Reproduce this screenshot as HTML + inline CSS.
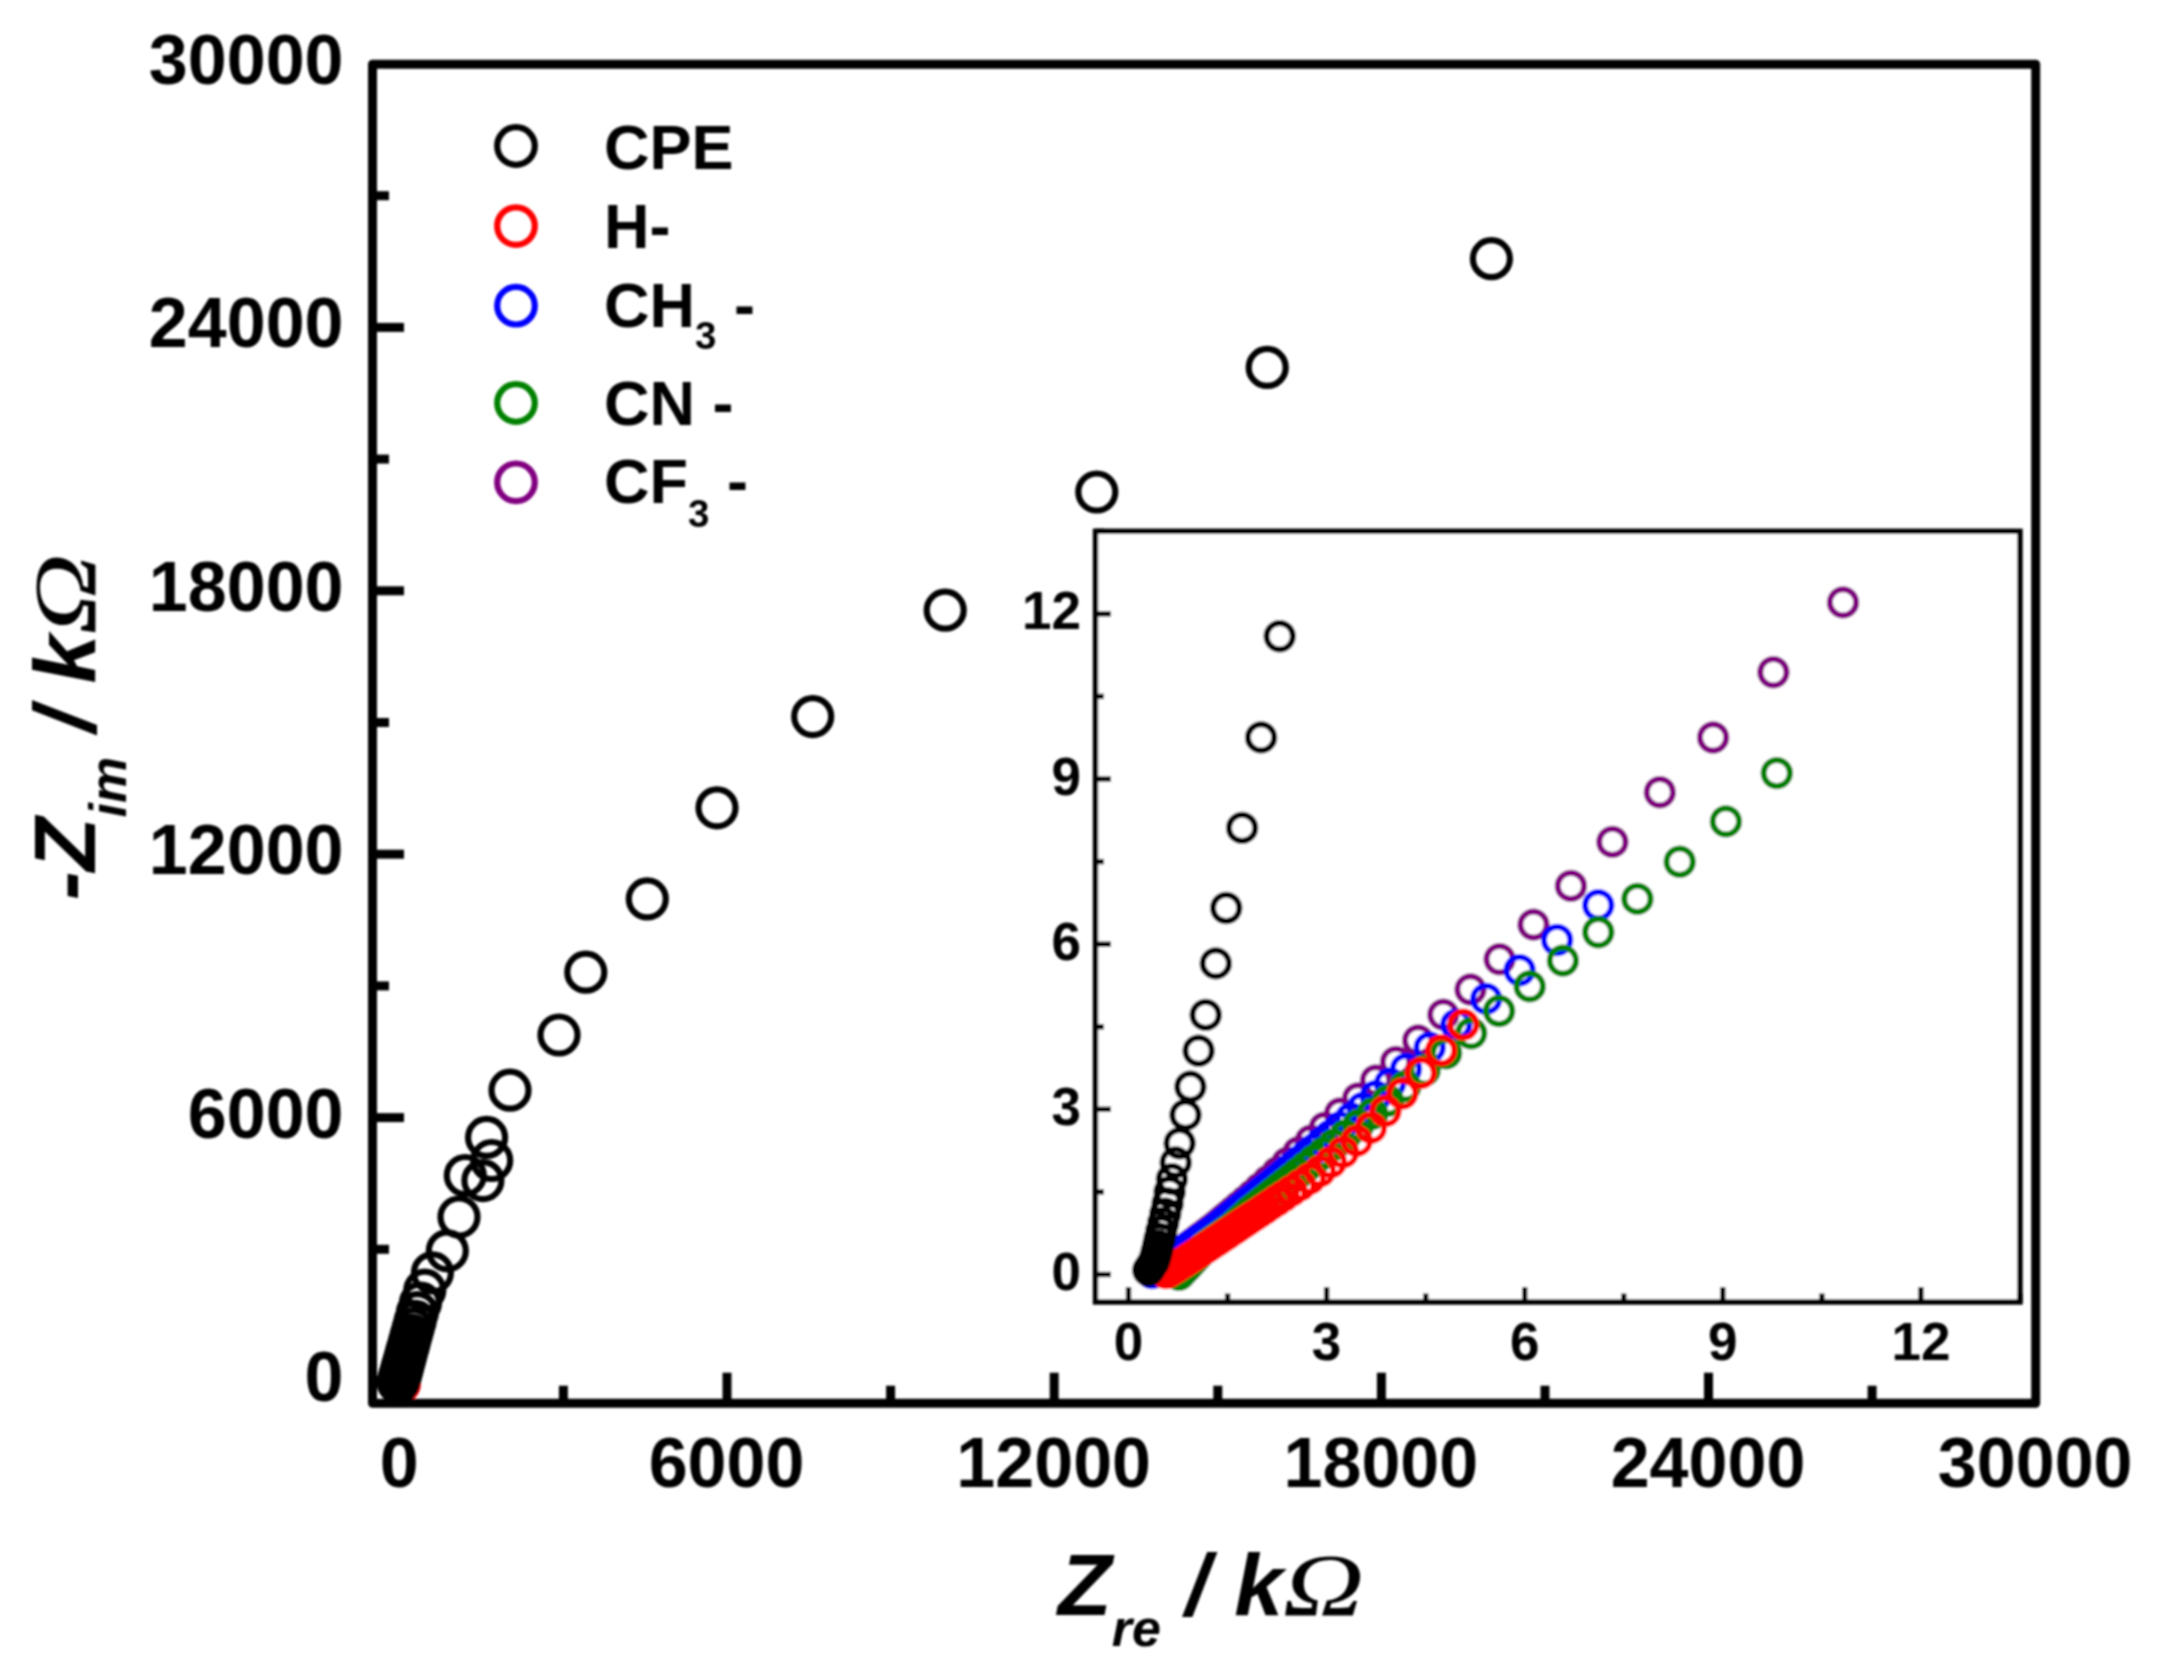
<!DOCTYPE html>
<html lang="en"><head><meta charset="utf-8"><title>Nyquist plot</title>
<style>html,body{margin:0;padding:0;background:#fff;}svg{display:block;}text{font-family:"Liberation Sans", Arial, Helvetica, sans-serif;font-weight:bold;fill:#000;}.tk{font-size:70px;}.itk{font-size:53px;}.lg{font-size:63px;}.ttl{font-size:88px;font-style:italic;}.sub{font-size:52px;}.om{font-family:"Liberation Serif", "Times New Roman", serif;font-weight:normal;font-style:italic;}.k circle{stroke:#000}.r circle{stroke:#f00}.b circle{stroke:#00f}.g circle{stroke:#008000}.p circle{stroke:#800080}</style></head><body>
<svg width="2165" height="1675" viewBox="0 0 2165 1675">
<defs><filter id="soft" x="0" y="0" width="2165" height="1675" filterUnits="userSpaceOnUse"><feGaussianBlur stdDeviation="1"/></filter></defs>
<rect x="0" y="0" width="2165" height="1675" fill="#fff"/>
<g filter="url(#soft)">
<g class="k" fill="none" stroke-width="6.2">
<circle cx="399.4" cy="1383.3" r="18.5" style="stroke:#f00"/>
<circle cx="398.2" cy="1382.5" r="18.5"/>
<circle cx="398.5" cy="1381.5" r="18.5"/>
<circle cx="398.8" cy="1380.3" r="18.5"/>
<circle cx="399.1" cy="1379.2" r="18.5"/>
<circle cx="399.4" cy="1378.0" r="18.5"/>
<circle cx="399.8" cy="1376.8" r="18.5"/>
<circle cx="400.1" cy="1375.7" r="18.5"/>
<circle cx="400.4" cy="1374.5" r="18.5"/>
<circle cx="400.7" cy="1373.4" r="18.5"/>
<circle cx="401.1" cy="1372.2" r="18.5"/>
<circle cx="401.4" cy="1370.8" r="18.5"/>
<circle cx="401.9" cy="1369.2" r="18.5"/>
<circle cx="402.4" cy="1367.4" r="18.5"/>
<circle cx="402.9" cy="1365.3" r="18.5"/>
<circle cx="403.6" cy="1363.0" r="18.5"/>
<circle cx="404.3" cy="1360.4" r="18.5"/>
<circle cx="405.1" cy="1357.4" r="18.5"/>
<circle cx="406.1" cy="1354.0" r="18.5"/>
<circle cx="407.1" cy="1350.1" r="18.5"/>
<circle cx="408.4" cy="1345.7" r="18.5"/>
<circle cx="409.7" cy="1340.7" r="18.5"/>
<circle cx="411.3" cy="1335.1" r="18.5"/>
<circle cx="413.1" cy="1328.6" r="18.5"/>
<circle cx="415.1" cy="1321.3" r="18.5"/>
<circle cx="417.3" cy="1312.7" r="18.5"/>
<circle cx="420.5" cy="1303.0" r="18.5"/>
<circle cx="424.8" cy="1290.2" r="18.5"/>
<circle cx="432.4" cy="1272.8" r="18.5"/>
<circle cx="447.3" cy="1250.8" r="18.5"/>
<circle cx="459.0" cy="1217.0" r="18.5"/>
<circle cx="482.9" cy="1180.6" r="18.5"/>
<circle cx="465.3" cy="1175.5" r="18.5"/>
<circle cx="491.7" cy="1160.5" r="18.5"/>
<circle cx="486.6" cy="1137.4" r="18.5"/>
<circle cx="510.0" cy="1090.2" r="18.5"/>
<circle cx="559.0" cy="1035.0" r="18.5"/>
<circle cx="585.8" cy="972.2" r="18.5"/>
<circle cx="647.3" cy="898.9" r="18.5"/>
<circle cx="717.0" cy="807.8" r="18.5"/>
<circle cx="812.7" cy="716.6" r="18.5"/>
<circle cx="945.2" cy="610.2" r="18.5"/>
<circle cx="1096.8" cy="492.0" r="18.5"/>
<circle cx="1267.2" cy="367.4" r="18.5"/>
<circle cx="1491.4" cy="258.7" r="18.5"/>
</g>
<g stroke="#000" stroke-width="9.0" fill="none" stroke-linejoin="round">
<rect x="372.5" y="64.2" width="1663.2" height="1339.0"/>
<line x1="399.8" y1="1403.2" x2="399.8" y2="1372.7"/>
<line x1="563.4" y1="1403.2" x2="563.4" y2="1385.7"/>
<line x1="727.0" y1="1403.2" x2="727.0" y2="1372.7"/>
<line x1="890.6" y1="1403.2" x2="890.6" y2="1385.7"/>
<line x1="1054.2" y1="1403.2" x2="1054.2" y2="1372.7"/>
<line x1="1217.8" y1="1403.2" x2="1217.8" y2="1385.7"/>
<line x1="1381.4" y1="1403.2" x2="1381.4" y2="1372.7"/>
<line x1="1545.0" y1="1403.2" x2="1545.0" y2="1385.7"/>
<line x1="1708.5" y1="1403.2" x2="1708.5" y2="1372.7"/>
<line x1="1872.1" y1="1403.2" x2="1872.1" y2="1385.7"/>
<line x1="372.5" y1="1381.0" x2="404.0" y2="1381.0"/>
<line x1="372.5" y1="1249.3" x2="389.0" y2="1249.3"/>
<line x1="372.5" y1="1117.6" x2="404.0" y2="1117.6"/>
<line x1="372.5" y1="985.9" x2="389.0" y2="985.9"/>
<line x1="372.5" y1="854.2" x2="404.0" y2="854.2"/>
<line x1="372.5" y1="722.5" x2="389.0" y2="722.5"/>
<line x1="372.5" y1="590.8" x2="404.0" y2="590.8"/>
<line x1="372.5" y1="459.1" x2="389.0" y2="459.1"/>
<line x1="372.5" y1="327.4" x2="404.0" y2="327.4"/>
<line x1="372.5" y1="195.7" x2="389.0" y2="195.7"/>
</g>
<g class="tk" text-anchor="middle">
<text x="399.3" y="1487">0</text>
<text x="726.5" y="1487">6000</text>
<text x="1053.7" y="1487">12000</text>
<text x="1380.9" y="1487">18000</text>
<text x="1708.0" y="1487">24000</text>
<text x="2035.2" y="1487">30000</text>
</g>
<g class="tk" text-anchor="end">
<text x="343.5" y="1401.0">0</text>
<text x="343.5" y="1137.6">6000</text>
<text x="343.5" y="874.2">12000</text>
<text x="343.5" y="610.8">18000</text>
<text x="343.5" y="347.4">24000</text>
<text x="343.5" y="84.0">30000</text>
</g>
<g class="k" fill="none" stroke-width="6.2"><circle cx="516" cy="146.0" r="18.8"/></g>
<g class="r" fill="none" stroke-width="6.2"><circle cx="516" cy="226.1" r="18.8"/></g>
<g class="b" fill="none" stroke-width="6.2"><circle cx="516" cy="305.7" r="18.8"/></g>
<g class="g" fill="none" stroke-width="6.2"><circle cx="516" cy="403.0" r="18.8"/></g>
<g class="p" fill="none" stroke-width="6.2"><circle cx="516" cy="482.3" r="18.8"/></g>
<g class="lg">
<text x="604" y="168.8">CPE</text>
<text x="604" y="248.4">H-</text>
<text x="604" y="327.3">CH<tspan font-size="38.5" dy="22">3</tspan><tspan dy="-22"> -</tspan></text>
<text x="604" y="424.5">CN -</text>
<text x="604" y="503.3">CF<tspan font-size="38.5" dy="23.5">3</tspan><tspan dy="-23.5"> -</tspan></text>
</g>
<text class="ttl" x="1058" y="1614.8">Z<tspan class="sub" dy="30.7">re</tspan><tspan dy="-30.7"> / k</tspan></text>
<text class="ttl om" transform="translate(1282.8,1614.8) scale(1.28,1)">Ω</text>
<text class="ttl" transform="translate(94.6,900.5) rotate(-90)">-Z<tspan class="sub" dy="31.5">im</tspan><tspan dy="-31.5"> / k</tspan></text>
<text class="ttl om" transform="translate(94.6,900.5) rotate(-90) translate(265.7,0) scale(1.28,1)">Ω</text>
<rect x="1095.5" y="531.3" width="924.5" height="770.7" fill="#fff" stroke="none"/>
<g class="p" fill="none" stroke-width="6.0">
<circle cx="1151.0" cy="1272.0" r="13.2"/>
<circle cx="1151.9" cy="1271.4" r="13.2"/>
<circle cx="1153.2" cy="1270.6" r="13.2"/>
<circle cx="1154.6" cy="1269.7" r="13.2"/>
<circle cx="1155.9" cy="1268.8" r="13.2"/>
<circle cx="1157.2" cy="1268.0" r="13.2"/>
<circle cx="1158.6" cy="1267.1" r="13.2"/>
<circle cx="1159.9" cy="1266.2" r="13.2"/>
<circle cx="1161.3" cy="1265.4" r="13.2"/>
<circle cx="1162.6" cy="1264.5" r="13.2"/>
<circle cx="1164.0" cy="1263.6" r="13.2"/>
<circle cx="1165.3" cy="1262.8" r="13.2"/>
<circle cx="1166.7" cy="1261.9" r="13.2"/>
<circle cx="1168.0" cy="1261.0" r="13.2"/>
<circle cx="1169.3" cy="1260.2" r="13.2"/>
<circle cx="1170.7" cy="1259.3" r="13.2"/>
<circle cx="1172.0" cy="1258.4" r="13.2"/>
<circle cx="1173.4" cy="1257.6" r="13.2"/>
<circle cx="1174.7" cy="1256.7" r="13.2"/>
<circle cx="1176.1" cy="1255.8" r="13.2"/>
<circle cx="1177.4" cy="1255.0" r="13.2"/>
<circle cx="1178.8" cy="1254.1" r="13.2"/>
<circle cx="1180.1" cy="1253.2" r="13.2"/>
<circle cx="1181.4" cy="1252.2" r="13.2"/>
<circle cx="1182.6" cy="1251.3" r="13.2"/>
<circle cx="1183.9" cy="1250.3" r="13.2"/>
<circle cx="1185.2" cy="1249.3" r="13.2"/>
<circle cx="1186.5" cy="1248.4" r="13.2"/>
<circle cx="1187.7" cy="1247.4" r="13.2"/>
<circle cx="1189.0" cy="1246.4" r="13.2"/>
<circle cx="1190.3" cy="1245.5" r="13.2"/>
<circle cx="1191.6" cy="1244.5" r="13.2"/>
<circle cx="1192.8" cy="1243.5" r="13.2"/>
<circle cx="1194.1" cy="1242.6" r="13.2"/>
<circle cx="1195.5" cy="1241.6" r="13.2"/>
<circle cx="1196.9" cy="1240.4" r="13.2"/>
<circle cx="1198.6" cy="1239.2" r="13.2"/>
<circle cx="1200.4" cy="1237.8" r="13.2"/>
<circle cx="1202.5" cy="1236.3" r="13.2"/>
<circle cx="1204.7" cy="1234.6" r="13.2"/>
<circle cx="1207.2" cy="1232.7" r="13.2"/>
<circle cx="1210.0" cy="1230.5" r="13.2"/>
<circle cx="1213.1" cy="1228.2" r="13.2"/>
<circle cx="1216.5" cy="1225.4" r="13.2"/>
<circle cx="1220.1" cy="1222.4" r="13.2"/>
<circle cx="1224.2" cy="1218.9" r="13.2"/>
<circle cx="1228.8" cy="1215.1" r="13.2"/>
<circle cx="1233.8" cy="1210.9" r="13.2"/>
<circle cx="1239.4" cy="1206.2" r="13.2"/>
<circle cx="1245.6" cy="1200.9" r="13.2"/>
<circle cx="1252.5" cy="1195.0" r="13.2"/>
<circle cx="1259.9" cy="1188.3" r="13.2"/>
<circle cx="1268.2" cy="1180.7" r="13.2"/>
<circle cx="1277.3" cy="1172.3" r="13.2"/>
<circle cx="1287.2" cy="1162.8" r="13.2"/>
<circle cx="1298.3" cy="1152.3" r="13.2"/>
<circle cx="1310.7" cy="1140.6" r="13.2"/>
<circle cx="1324.6" cy="1127.8" r="13.2"/>
<circle cx="1340.0" cy="1113.5" r="13.2"/>
<circle cx="1358.0" cy="1098.4" r="13.2"/>
<circle cx="1375.9" cy="1080.5" r="13.2"/>
<circle cx="1396.0" cy="1061.9" r="13.2"/>
<circle cx="1418.2" cy="1040.4" r="13.2"/>
<circle cx="1443.3" cy="1014.6" r="13.2"/>
<circle cx="1470.5" cy="989.5" r="13.2"/>
<circle cx="1499.6" cy="959.2" r="13.2"/>
<circle cx="1533.5" cy="924.6" r="13.2"/>
<circle cx="1570.9" cy="885.9" r="13.2"/>
<circle cx="1612.4" cy="841.9" r="13.2"/>
<circle cx="1659.8" cy="792.2" r="13.2"/>
<circle cx="1713.1" cy="737.5" r="13.2"/>
<circle cx="1773.4" cy="672.2" r="13.2"/>
<circle cx="1843.0" cy="602.4" r="13.2"/>
</g>
<g class="b" fill="none" stroke-width="6.0">
<circle cx="1152.0" cy="1273.0" r="13.2"/>
<circle cx="1152.1" cy="1272.9" r="13.2"/>
<circle cx="1153.4" cy="1272.0" r="13.2"/>
<circle cx="1154.7" cy="1271.1" r="13.2"/>
<circle cx="1156.0" cy="1270.2" r="13.2"/>
<circle cx="1157.4" cy="1269.2" r="13.2"/>
<circle cx="1158.7" cy="1268.3" r="13.2"/>
<circle cx="1160.0" cy="1267.4" r="13.2"/>
<circle cx="1161.3" cy="1266.5" r="13.2"/>
<circle cx="1162.6" cy="1265.5" r="13.2"/>
<circle cx="1163.9" cy="1264.6" r="13.2"/>
<circle cx="1165.2" cy="1263.7" r="13.2"/>
<circle cx="1166.5" cy="1262.8" r="13.2"/>
<circle cx="1167.8" cy="1261.9" r="13.2"/>
<circle cx="1169.1" cy="1260.9" r="13.2"/>
<circle cx="1170.4" cy="1260.0" r="13.2"/>
<circle cx="1171.7" cy="1259.1" r="13.2"/>
<circle cx="1173.1" cy="1258.2" r="13.2"/>
<circle cx="1174.4" cy="1257.3" r="13.2"/>
<circle cx="1175.7" cy="1256.3" r="13.2"/>
<circle cx="1177.0" cy="1255.4" r="13.2"/>
<circle cx="1178.3" cy="1254.5" r="13.2"/>
<circle cx="1179.6" cy="1253.6" r="13.2"/>
<circle cx="1180.9" cy="1252.7" r="13.2"/>
<circle cx="1182.2" cy="1251.8" r="13.2"/>
<circle cx="1183.6" cy="1250.9" r="13.2"/>
<circle cx="1184.9" cy="1250.0" r="13.2"/>
<circle cx="1186.2" cy="1249.1" r="13.2"/>
<circle cx="1187.5" cy="1248.2" r="13.2"/>
<circle cx="1188.9" cy="1247.3" r="13.2"/>
<circle cx="1190.2" cy="1246.4" r="13.2"/>
<circle cx="1191.5" cy="1245.5" r="13.2"/>
<circle cx="1192.9" cy="1244.6" r="13.2"/>
<circle cx="1194.2" cy="1243.7" r="13.2"/>
<circle cx="1195.5" cy="1242.8" r="13.2"/>
<circle cx="1196.8" cy="1241.9" r="13.2"/>
<circle cx="1198.2" cy="1241.0" r="13.2"/>
<circle cx="1199.5" cy="1240.1" r="13.2"/>
<circle cx="1200.8" cy="1239.2" r="13.2"/>
<circle cx="1202.1" cy="1238.3" r="13.2"/>
<circle cx="1203.5" cy="1237.5" r="13.2"/>
<circle cx="1204.8" cy="1236.6" r="13.2"/>
<circle cx="1206.1" cy="1235.7" r="13.2"/>
<circle cx="1207.4" cy="1234.8" r="13.2"/>
<circle cx="1208.8" cy="1233.9" r="13.2"/>
<circle cx="1210.1" cy="1233.0" r="13.2"/>
<circle cx="1211.4" cy="1232.1" r="13.2"/>
<circle cx="1212.7" cy="1231.2" r="13.2"/>
<circle cx="1214.1" cy="1230.3" r="13.2"/>
<circle cx="1215.3" cy="1229.3" r="13.2"/>
<circle cx="1216.6" cy="1228.3" r="13.2"/>
<circle cx="1217.8" cy="1227.3" r="13.2"/>
<circle cx="1219.1" cy="1226.3" r="13.2"/>
<circle cx="1220.3" cy="1225.3" r="13.2"/>
<circle cx="1221.6" cy="1224.3" r="13.2"/>
<circle cx="1222.8" cy="1223.3" r="13.2"/>
<circle cx="1224.1" cy="1222.3" r="13.2"/>
<circle cx="1225.3" cy="1221.3" r="13.2"/>
<circle cx="1226.6" cy="1220.3" r="13.2"/>
<circle cx="1227.8" cy="1219.3" r="13.2"/>
<circle cx="1229.1" cy="1218.3" r="13.2"/>
<circle cx="1230.3" cy="1217.3" r="13.2"/>
<circle cx="1231.6" cy="1216.3" r="13.2"/>
<circle cx="1232.8" cy="1215.3" r="13.2"/>
<circle cx="1234.1" cy="1214.3" r="13.2"/>
<circle cx="1235.3" cy="1213.3" r="13.2"/>
<circle cx="1236.6" cy="1212.3" r="13.2"/>
<circle cx="1237.8" cy="1211.3" r="13.2"/>
<circle cx="1239.1" cy="1210.3" r="13.2"/>
<circle cx="1240.3" cy="1209.3" r="13.2"/>
<circle cx="1241.6" cy="1208.3" r="13.2"/>
<circle cx="1242.8" cy="1207.3" r="13.2"/>
<circle cx="1244.1" cy="1206.3" r="13.2"/>
<circle cx="1245.3" cy="1205.3" r="13.2"/>
<circle cx="1246.6" cy="1204.3" r="13.2"/>
<circle cx="1247.8" cy="1203.3" r="13.2"/>
<circle cx="1249.1" cy="1202.3" r="13.2"/>
<circle cx="1250.3" cy="1201.3" r="13.2"/>
<circle cx="1251.6" cy="1200.3" r="13.2"/>
<circle cx="1252.8" cy="1199.3" r="13.2"/>
<circle cx="1254.1" cy="1198.3" r="13.2"/>
<circle cx="1255.4" cy="1197.3" r="13.2"/>
<circle cx="1256.9" cy="1196.1" r="13.2"/>
<circle cx="1258.6" cy="1194.8" r="13.2"/>
<circle cx="1260.4" cy="1193.3" r="13.2"/>
<circle cx="1262.4" cy="1191.7" r="13.2"/>
<circle cx="1264.7" cy="1189.8" r="13.2"/>
<circle cx="1267.2" cy="1187.8" r="13.2"/>
<circle cx="1270.0" cy="1185.6" r="13.2"/>
<circle cx="1273.1" cy="1183.1" r="13.2"/>
<circle cx="1276.6" cy="1180.3" r="13.2"/>
<circle cx="1280.4" cy="1177.2" r="13.2"/>
<circle cx="1284.6" cy="1173.7" r="13.2"/>
<circle cx="1289.2" cy="1169.8" r="13.2"/>
<circle cx="1294.4" cy="1165.5" r="13.2"/>
<circle cx="1300.2" cy="1160.7" r="13.2"/>
<circle cx="1306.6" cy="1155.3" r="13.2"/>
<circle cx="1313.7" cy="1149.4" r="13.2"/>
<circle cx="1321.5" cy="1142.8" r="13.2"/>
<circle cx="1330.3" cy="1135.5" r="13.2"/>
<circle cx="1340.0" cy="1127.3" r="13.2"/>
<circle cx="1350.9" cy="1118.3" r="13.2"/>
<circle cx="1362.6" cy="1107.9" r="13.2"/>
<circle cx="1375.6" cy="1096.3" r="13.2"/>
<circle cx="1390.0" cy="1083.4" r="13.2"/>
<circle cx="1406.0" cy="1069.0" r="13.2"/>
<circle cx="1429.7" cy="1047.6" r="13.2"/>
<circle cx="1456.2" cy="1024.6" r="13.2"/>
<circle cx="1486.2" cy="998.9" r="13.2"/>
<circle cx="1519.6" cy="970.3" r="13.2"/>
<circle cx="1557.1" cy="940.0" r="13.2"/>
<circle cx="1598.3" cy="905.3" r="13.2"/>
</g>
<g class="g" fill="none" stroke-width="6.0">
<circle cx="1179.0" cy="1274.7" r="13.2"/>
<circle cx="1179.8" cy="1273.8" r="13.2"/>
<circle cx="1180.9" cy="1272.6" r="13.2"/>
<circle cx="1182.0" cy="1271.5" r="13.2"/>
<circle cx="1183.1" cy="1270.3" r="13.2"/>
<circle cx="1184.2" cy="1269.1" r="13.2"/>
<circle cx="1185.3" cy="1268.0" r="13.2"/>
<circle cx="1186.4" cy="1266.8" r="13.2"/>
<circle cx="1187.5" cy="1265.6" r="13.2"/>
<circle cx="1188.5" cy="1264.4" r="13.2"/>
<circle cx="1189.6" cy="1263.3" r="13.2"/>
<circle cx="1190.7" cy="1262.1" r="13.2"/>
<circle cx="1191.8" cy="1260.9" r="13.2"/>
<circle cx="1192.9" cy="1259.8" r="13.2"/>
<circle cx="1194.0" cy="1258.6" r="13.2"/>
<circle cx="1195.1" cy="1257.4" r="13.2"/>
<circle cx="1196.2" cy="1256.3" r="13.2"/>
<circle cx="1197.3" cy="1255.1" r="13.2"/>
<circle cx="1198.4" cy="1253.9" r="13.2"/>
<circle cx="1199.5" cy="1252.7" r="13.2"/>
<circle cx="1200.5" cy="1251.6" r="13.2"/>
<circle cx="1201.6" cy="1250.4" r="13.2"/>
<circle cx="1202.7" cy="1249.2" r="13.2"/>
<circle cx="1203.8" cy="1248.1" r="13.2"/>
<circle cx="1204.9" cy="1246.9" r="13.2"/>
<circle cx="1206.3" cy="1246.0" r="13.2"/>
<circle cx="1207.6" cy="1245.1" r="13.2"/>
<circle cx="1208.9" cy="1244.2" r="13.2"/>
<circle cx="1210.2" cy="1243.3" r="13.2"/>
<circle cx="1211.5" cy="1242.3" r="13.2"/>
<circle cx="1212.8" cy="1241.4" r="13.2"/>
<circle cx="1214.1" cy="1240.5" r="13.2"/>
<circle cx="1215.4" cy="1239.6" r="13.2"/>
<circle cx="1216.7" cy="1238.7" r="13.2"/>
<circle cx="1218.0" cy="1237.8" r="13.2"/>
<circle cx="1219.4" cy="1236.8" r="13.2"/>
<circle cx="1220.7" cy="1235.9" r="13.2"/>
<circle cx="1222.0" cy="1235.0" r="13.2"/>
<circle cx="1223.3" cy="1234.1" r="13.2"/>
<circle cx="1224.6" cy="1233.2" r="13.2"/>
<circle cx="1225.9" cy="1232.2" r="13.2"/>
<circle cx="1227.2" cy="1231.3" r="13.2"/>
<circle cx="1228.5" cy="1230.4" r="13.2"/>
<circle cx="1229.8" cy="1229.5" r="13.2"/>
<circle cx="1231.2" cy="1228.6" r="13.2"/>
<circle cx="1232.5" cy="1227.6" r="13.2"/>
<circle cx="1233.6" cy="1226.6" r="13.2"/>
<circle cx="1234.8" cy="1225.5" r="13.2"/>
<circle cx="1236.0" cy="1224.4" r="13.2"/>
<circle cx="1237.2" cy="1223.4" r="13.2"/>
<circle cx="1238.4" cy="1222.3" r="13.2"/>
<circle cx="1239.6" cy="1221.2" r="13.2"/>
<circle cx="1240.8" cy="1220.1" r="13.2"/>
<circle cx="1242.0" cy="1219.1" r="13.2"/>
<circle cx="1243.2" cy="1218.0" r="13.2"/>
<circle cx="1244.5" cy="1216.8" r="13.2"/>
<circle cx="1246.0" cy="1215.4" r="13.2"/>
<circle cx="1247.6" cy="1214.0" r="13.2"/>
<circle cx="1249.4" cy="1212.3" r="13.2"/>
<circle cx="1251.5" cy="1210.5" r="13.2"/>
<circle cx="1253.9" cy="1208.6" r="13.2"/>
<circle cx="1256.5" cy="1206.5" r="13.2"/>
<circle cx="1259.5" cy="1204.2" r="13.2"/>
<circle cx="1262.7" cy="1201.6" r="13.2"/>
<circle cx="1266.3" cy="1198.7" r="13.2"/>
<circle cx="1270.4" cy="1195.5" r="13.2"/>
<circle cx="1274.8" cy="1191.9" r="13.2"/>
<circle cx="1279.8" cy="1187.9" r="13.2"/>
<circle cx="1285.3" cy="1183.5" r="13.2"/>
<circle cx="1291.4" cy="1178.6" r="13.2"/>
<circle cx="1298.2" cy="1173.1" r="13.2"/>
<circle cx="1305.8" cy="1167.1" r="13.2"/>
<circle cx="1314.2" cy="1160.4" r="13.2"/>
<circle cx="1323.6" cy="1153.0" r="13.2"/>
<circle cx="1334.0" cy="1144.7" r="13.2"/>
<circle cx="1345.5" cy="1135.5" r="13.2"/>
<circle cx="1358.3" cy="1125.3" r="13.2"/>
<circle cx="1372.4" cy="1113.7" r="13.2"/>
<circle cx="1388.0" cy="1100.8" r="13.2"/>
<circle cx="1405.3" cy="1086.4" r="13.2"/>
<circle cx="1424.6" cy="1070.5" r="13.2"/>
<circle cx="1446.1" cy="1053.3" r="13.2"/>
<circle cx="1471.2" cy="1033.2" r="13.2"/>
<circle cx="1499.1" cy="1011.0" r="13.2"/>
<circle cx="1529.7" cy="986.4" r="13.2"/>
<circle cx="1562.9" cy="960.6" r="13.2"/>
<circle cx="1598.3" cy="932.3" r="13.2"/>
<circle cx="1637.4" cy="898.9" r="13.2"/>
<circle cx="1679.7" cy="861.7" r="13.2"/>
<circle cx="1725.9" cy="821.4" r="13.2"/>
<circle cx="1776.8" cy="773.1" r="13.2"/>
</g>
<g class="r" fill="none" stroke-width="6.0">
<circle cx="1166.0" cy="1273.0" r="13.2"/>
<circle cx="1166.2" cy="1272.9" r="13.2"/>
<circle cx="1167.6" cy="1272.1" r="13.2"/>
<circle cx="1169.0" cy="1271.2" r="13.2"/>
<circle cx="1170.4" cy="1270.4" r="13.2"/>
<circle cx="1171.8" cy="1269.6" r="13.2"/>
<circle cx="1173.1" cy="1268.8" r="13.2"/>
<circle cx="1174.5" cy="1268.0" r="13.2"/>
<circle cx="1175.9" cy="1267.1" r="13.2"/>
<circle cx="1177.2" cy="1266.3" r="13.2"/>
<circle cx="1178.5" cy="1265.4" r="13.2"/>
<circle cx="1179.9" cy="1264.5" r="13.2"/>
<circle cx="1181.2" cy="1263.7" r="13.2"/>
<circle cx="1182.6" cy="1262.8" r="13.2"/>
<circle cx="1183.9" cy="1261.9" r="13.2"/>
<circle cx="1185.3" cy="1261.1" r="13.2"/>
<circle cx="1186.6" cy="1260.2" r="13.2"/>
<circle cx="1188.0" cy="1259.3" r="13.2"/>
<circle cx="1189.3" cy="1258.5" r="13.2"/>
<circle cx="1190.7" cy="1257.6" r="13.2"/>
<circle cx="1192.0" cy="1256.7" r="13.2"/>
<circle cx="1193.3" cy="1255.9" r="13.2"/>
<circle cx="1194.7" cy="1255.0" r="13.2"/>
<circle cx="1196.0" cy="1254.1" r="13.2"/>
<circle cx="1197.4" cy="1253.3" r="13.2"/>
<circle cx="1198.7" cy="1252.4" r="13.2"/>
<circle cx="1200.1" cy="1251.5" r="13.2"/>
<circle cx="1201.4" cy="1250.7" r="13.2"/>
<circle cx="1202.8" cy="1249.8" r="13.2"/>
<circle cx="1204.1" cy="1248.9" r="13.2"/>
<circle cx="1205.4" cy="1248.1" r="13.2"/>
<circle cx="1206.8" cy="1247.2" r="13.2"/>
<circle cx="1208.1" cy="1246.3" r="13.2"/>
<circle cx="1209.5" cy="1245.5" r="13.2"/>
<circle cx="1210.8" cy="1244.6" r="13.2"/>
<circle cx="1212.1" cy="1243.7" r="13.2"/>
<circle cx="1213.5" cy="1242.8" r="13.2"/>
<circle cx="1214.8" cy="1241.9" r="13.2"/>
<circle cx="1216.1" cy="1241.0" r="13.2"/>
<circle cx="1217.5" cy="1240.2" r="13.2"/>
<circle cx="1218.8" cy="1239.3" r="13.2"/>
<circle cx="1220.1" cy="1238.4" r="13.2"/>
<circle cx="1221.5" cy="1237.5" r="13.2"/>
<circle cx="1222.8" cy="1236.6" r="13.2"/>
<circle cx="1224.1" cy="1235.7" r="13.2"/>
<circle cx="1225.5" cy="1234.8" r="13.2"/>
<circle cx="1226.8" cy="1234.0" r="13.2"/>
<circle cx="1228.2" cy="1233.0" r="13.2"/>
<circle cx="1229.8" cy="1231.9" r="13.2"/>
<circle cx="1231.6" cy="1230.7" r="13.2"/>
<circle cx="1233.6" cy="1229.4" r="13.2"/>
<circle cx="1235.8" cy="1228.0" r="13.2"/>
<circle cx="1238.2" cy="1226.3" r="13.2"/>
<circle cx="1240.9" cy="1224.5" r="13.2"/>
<circle cx="1243.9" cy="1222.5" r="13.2"/>
<circle cx="1247.3" cy="1220.3" r="13.2"/>
<circle cx="1251.0" cy="1217.8" r="13.2"/>
<circle cx="1255.1" cy="1215.1" r="13.2"/>
<circle cx="1259.7" cy="1212.1" r="13.2"/>
<circle cx="1264.8" cy="1208.7" r="13.2"/>
<circle cx="1270.5" cy="1204.9" r="13.2"/>
<circle cx="1276.8" cy="1200.7" r="13.2"/>
<circle cx="1283.7" cy="1196.1" r="13.2"/>
<circle cx="1291.5" cy="1190.9" r="13.2"/>
<circle cx="1300.1" cy="1185.2" r="13.2"/>
<circle cx="1309.7" cy="1178.8" r="13.2"/>
<circle cx="1320.0" cy="1171.2" r="13.2"/>
<circle cx="1331.0" cy="1162.2" r="13.2"/>
<circle cx="1343.2" cy="1152.2" r="13.2"/>
<circle cx="1356.7" cy="1140.9" r="13.2"/>
<circle cx="1371.0" cy="1127.7" r="13.2"/>
<circle cx="1385.5" cy="1111.0" r="13.2"/>
<circle cx="1402.3" cy="1093.6" r="13.2"/>
<circle cx="1420.7" cy="1073.0" r="13.2"/>
<circle cx="1441.1" cy="1050.4" r="13.2"/>
<circle cx="1463.3" cy="1024.6" r="13.2"/>
</g>
<g class="k" fill="none" stroke-width="6.0">
<circle cx="1148.3" cy="1270.2" r="13.2"/>
<circle cx="1149.1" cy="1268.9" r="13.2"/>
<circle cx="1151.3" cy="1265.5" r="13.2"/>
<circle cx="1153.7" cy="1261.7" r="13.2"/>
<circle cx="1155.3" cy="1257.0" r="13.2"/>
<circle cx="1156.6" cy="1251.5" r="13.2"/>
<circle cx="1158.0" cy="1245.5" r="13.2"/>
<circle cx="1159.5" cy="1238.7" r="13.2"/>
<circle cx="1161.2" cy="1231.2" r="13.2"/>
<circle cx="1163.2" cy="1222.9" r="13.2"/>
<circle cx="1165.3" cy="1213.7" r="13.2"/>
<circle cx="1167.6" cy="1203.4" r="13.2"/>
<circle cx="1169.6" cy="1191.9" r="13.2"/>
<circle cx="1171.9" cy="1179.1" r="13.2"/>
<circle cx="1175.7" cy="1162.4" r="13.2"/>
<circle cx="1179.6" cy="1143.2" r="13.2"/>
<circle cx="1185.5" cy="1114.9" r="13.2"/>
<circle cx="1190.4" cy="1086.7" r="13.2"/>
<circle cx="1198.6" cy="1050.7" r="13.2"/>
<circle cx="1205.7" cy="1014.9" r="13.2"/>
<circle cx="1215.8" cy="963.4" r="13.2"/>
<circle cx="1226.2" cy="908.0" r="13.2"/>
<circle cx="1242.1" cy="827.9" r="13.2"/>
<circle cx="1261.1" cy="737.4" r="13.2"/>
<circle cx="1279.7" cy="636.3" r="13.2"/>
</g>
<g stroke="#000" stroke-width="5.4" fill="none">
<rect x="1095.5" y="531.3" width="924.5" height="770.7"/>
<line x1="1128.5" y1="1302.0" x2="1128.5" y2="1287.0"/>
<line x1="1095.5" y1="1274.5" x2="1111.0" y2="1274.5"/>
<line x1="1227.6" y1="1302.0" x2="1227.6" y2="1293.5"/>
<line x1="1095.5" y1="1191.9" x2="1104.0" y2="1191.9"/>
<line x1="1326.6" y1="1302.0" x2="1326.6" y2="1287.0"/>
<line x1="1095.5" y1="1109.3" x2="1111.0" y2="1109.3"/>
<line x1="1425.7" y1="1302.0" x2="1425.7" y2="1293.5"/>
<line x1="1095.5" y1="1026.8" x2="1104.0" y2="1026.8"/>
<line x1="1524.7" y1="1302.0" x2="1524.7" y2="1287.0"/>
<line x1="1095.5" y1="944.2" x2="1111.0" y2="944.2"/>
<line x1="1623.8" y1="1302.0" x2="1623.8" y2="1293.5"/>
<line x1="1095.5" y1="861.6" x2="1104.0" y2="861.6"/>
<line x1="1722.8" y1="1302.0" x2="1722.8" y2="1287.0"/>
<line x1="1095.5" y1="779.0" x2="1111.0" y2="779.0"/>
<line x1="1821.9" y1="1302.0" x2="1821.9" y2="1293.5"/>
<line x1="1095.5" y1="696.4" x2="1104.0" y2="696.4"/>
<line x1="1920.9" y1="1302.0" x2="1920.9" y2="1287.0"/>
<line x1="1095.5" y1="613.9" x2="1111.0" y2="613.9"/>
<line x1="2020.0" y1="1302.0" x2="2020.0" y2="1293.5"/>
<line x1="1095.5" y1="531.3" x2="1104.0" y2="531.3"/>
</g>
<g class="itk" text-anchor="middle">
<text x="1128.5" y="1359.5">0</text>
<text x="1326.6" y="1359.5">3</text>
<text x="1524.7" y="1359.5">6</text>
<text x="1722.8" y="1359.5">9</text>
<text x="1920.9" y="1359.5">12</text>
</g>
<g class="itk" text-anchor="end">
<text x="1081" y="1290.0">0</text>
<text x="1081" y="1124.8">3</text>
<text x="1081" y="959.7">6</text>
<text x="1081" y="794.5">9</text>
<text x="1081" y="629.4">12</text>
</g>
</g>
</svg></body></html>
